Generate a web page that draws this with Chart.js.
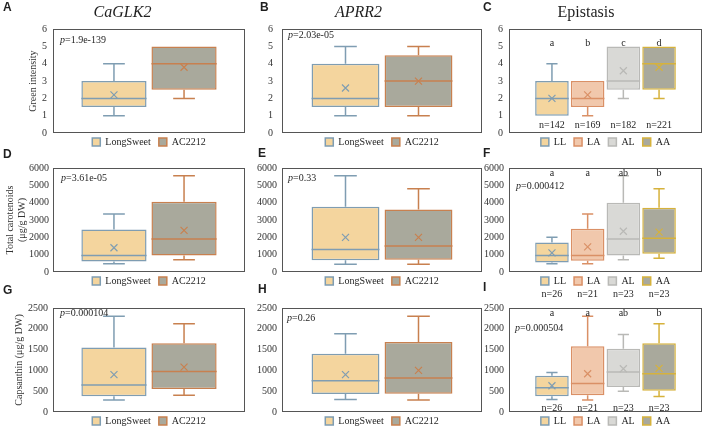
<!DOCTYPE html>
<html><head><meta charset="utf-8">
<script src="https://cdn.jsdelivr.net/npm/chart.js@4.4.1/dist/chart.umd.min.js"></script>
<style>
html,body{margin:0;padding:0;background:#fff;width:708px;height:433px;overflow:hidden;position:relative}
.panel{position:absolute}
</style></head><body>
<script>
// ---------- DATA ----------
const seriesPair = ['LongSweet', 'AC2212'];
const seriesEpi = ['LL', 'LA', 'AL', 'AA'];
// each series: [min, Q1, median, Q3, max, mean]
const greenLongSweet = [1, 1.5, 2, 3, 4, 2.2];
const greenAC2212 = [2, 2.5, 4, 5, 5, 3.8];
const aprrLongSweet = [1, 1.5, 2, 4, 5, 2.6];
const aprrAC2212 = [1, 1.5, 3, 4.5, 5, 3.0];
const epiGreenLL = [1, 1, 2, 3, 4, 2.0];
const epiGreenLA = [1, 1.5, 2, 3, 3, 2.2];
const epiGreenAL = [2, 2.5, 3, 5, 5, 3.6];
const epiGreenAA = [2, 2.5, 4, 5, 5, 3.8];
const carotGlkLongSweet = [480, 600, 950, 2450, 3350, 1400];
const carotGlkAC2212 = [700, 950, 1900, 4050, 5550, 2400];
const carotAprrLongSweet = [450, 680, 1300, 3770, 5550, 2000];
const carotAprrAC2212 = [450, 700, 1500, 3600, 4800, 2000];
const carotLL = [480, 550, 950, 1700, 2000, 1100];
const carotLA = [480, 650, 950, 2500, 3350, 1450];
const carotAL = [700, 950, 1900, 4000, 5550, 2350];
const carotAA = [800, 1050, 1950, 3700, 4800, 2300];
const capsGlkLongSweet = [290, 380, 650, 1550, 2300, 900];
const capsGlkAC2212 = [400, 550, 975, 1650, 2120, 1080];
const capsAprrLongSweet = [300, 430, 750, 1400, 1880, 900];
const capsAprrAC2212 = [290, 440, 820, 1680, 2300, 1000];
const capsLL = [300, 380, 580, 870, 950, 630];
const capsLA = [290, 400, 685, 1580, 2300, 920];
const capsAL = [500, 600, 960, 1520, 1860, 1040];
const capsAA = [370, 510, 920, 1650, 2120, 1050];
// tick labels
const greenTicks = [0, 1, 2, 3, 4, 5, 6];
const carotTicks = [0, 1000, 2000, 3000, 4000, 5000, 6000];
const capsTicks = [0, 500, 1000, 1500, 2000, 2500];
// annotations
const pGreenGlk = '1.9e-139', pGreenAprr = '2.03e-05';
const pCarotGlk = '3.61e-05', pCarotAprr = '0.33', pCarotEpi = '0.000412';
const pCapsGlk = '0.000104', pCapsAprr = '0.26', pCapsEpi = '0.000504';
const sigGreen = ['a', 'b', 'c', 'd'];
const nGreen = ['n=142', 'n=169', 'n=182', 'n=221'];
const sigCarot = ['a', 'a', 'ab', 'b'];
const sigCaps = ['a', 'a', 'ab', 'b'];
const nPigment = ['n=26', 'n=21', 'n=23', 'n=23'];

// ---------- STYLE ----------
const SERIF = '"Liberation Serif", "Times New Roman", serif';
const SANS = '"Liberation Sans", Arial, sans-serif';
const TXT = '#1f1f1f';
const pairFill = ['#F4D59E', '#A9A99C'];
const pairBorder = ['#7F9DB2', '#C8804F'];
const epiFill = ['#F4D59E', '#F1C8AC', '#D9D9D6', '#A9A99C'];
const epiBorder = ['#7F9DB2', '#DA9066', '#B9B9B6', '#D6B23C'];

const boxPlugin = {
  id: 'boxes',
  afterLayout(chart) {
    const lg = chart.legend;
    if (lg) { lg.top -= 4; lg.bottom -= 4; }
  },
  afterDatasetsDraw(chart) {
    const ctx = chart.ctx, ys = chart.scales.y;
    const py = v => ys.getPixelForValue(v);
    chart.data.datasets.forEach((ds, i) => {
      const bar = chart.getDatasetMeta(i).data[0];
      const s = ds.stats, x = bar.x, w = bar.width, cap = w / 3;
      ctx.save();
      ctx.strokeStyle = ds.borderColor; ctx.lineWidth = 1.5;
      ctx.beginPath();
      if (s[4] > s[3]) {
        ctx.moveTo(x, py(s[3])); ctx.lineTo(x, py(s[4]));
        ctx.moveTo(x - cap / 2, py(s[4])); ctx.lineTo(x + cap / 2, py(s[4]));
      }
      if (s[0] < s[1]) {
        ctx.moveTo(x, py(s[1])); ctx.lineTo(x, py(s[0]));
        ctx.moveTo(x - cap / 2, py(s[0])); ctx.lineTo(x + cap / 2, py(s[0]));
      }
      ctx.moveTo(x - w / 2, py(s[2])); ctx.lineTo(x + w / 2, py(s[2]));
      ctx.stroke();
      const my = py(s[5]), r = 3.5;
      ctx.lineWidth = 1.2; ctx.beginPath();
      ctx.moveTo(x - r, my - r); ctx.lineTo(x + r, my + r);
      ctx.moveTo(x + r, my - r); ctx.lineTo(x - r, my + r);
      ctx.stroke();
      ctx.restore();
    });
  },
  afterDraw(chart) {
    const ctx = chart.ctx, a = chart.chartArea, o = chart.options.plugins.annot;
    ctx.save();
    ctx.strokeStyle = '#555'; ctx.lineWidth = 1;
    ctx.strokeRect(Math.round(a.left) + 0.5, Math.round(a.top) + 0.5, Math.round(a.right - a.left) - 1, Math.round(a.bottom - a.top) - 1);
    ctx.fillStyle = TXT; ctx.textBaseline = 'middle';
    ctx.textAlign = 'left';
    ctx.font = 'bold 12px ' + SANS;
    ctx.fillText(o.letter, o.lx, o.ly);
    if (o.p) {
      const x = a.left + o.px, y = a.top + o.py;
      ctx.font = 'italic 10px ' + SERIF; ctx.fillText('p', x, y);
      const w = ctx.measureText('p').width;
      ctx.font = '10px ' + SERIF; ctx.fillText('=' + o.p, x + w, y);
    }
    ctx.textAlign = 'center'; ctx.font = '10px ' + SERIF;
    chart.data.datasets.forEach((ds, i) => {
      const bar = chart.getDatasetMeta(i).data[0];
      if (o.sig) ctx.fillText(o.sig[i], bar.x, a.top + o.sigDy);
      if (o.n) ctx.fillText(o.n[i], bar.x, a.bottom + o.nDy);
    });
    ctx.restore();
  }
};

function panel(o) {
  const div = document.createElement('div'); div.className = 'panel';
  div.style.left = o.left + 'px'; div.style.top = o.top + 'px';
  const cv = document.createElement('canvas');
  cv.width = o.w; cv.height = o.h; cv.style.width = o.w + 'px'; cv.style.height = o.h + 'px';
  div.appendChild(cv); document.body.appendChild(div);
  const four = o.names.length === 4;
  new Chart(cv, {
    type: 'bar',
    data: {
      labels: [''],
      datasets: o.stats.map((s, i) => ({
        label: o.names[i], data: [[s[1], s[3]]], stats: s,
        backgroundColor: o.fills[i], borderColor: o.borders[i], borderWidth: 1.5, borderSkipped: false
      }))
    },
    options: {
      responsive: false, animation: false, devicePixelRatio: 1, events: [],
      layout: { padding: { top: o.padTop || 0, right: o.padRight, bottom: o.padBottom || 0, left: 0 } },
      datasets: { bar: { categoryPercentage: four ? 0.74 : 0.73, barPercentage: four ? 0.94 : 0.93 } },
      scales: {
        x: { display: false },
        y: {
          min: o.ticks[0], max: o.ticks[o.ticks.length - 1],
          afterBuildTicks: s => { s.ticks = o.ticks.map(v => ({ value: v })); },
          afterFit: s => { s.width = o.axisW; },
          ticks: { padding: o.tickPad || 5, color: '#333', font: { family: SERIF, size: 10 }, callback: v => String(v) },
          grid: { display: false, drawTicks: false },
          border: { display: false },
          title: { display: !!o.yTitle, text: o.yTitle || '', color: '#333', font: { family: SERIF, size: 10 }, padding: { top: o.yPad || 0, bottom: 0 } }
        }
      },
      plugins: {
        title: { display: !!o.title, text: o.title || '', color: TXT, font: { family: SERIF, size: 16, style: o.italic ? 'italic' : 'normal', weight: 'normal' }, padding: { top: 3, bottom: 7 } },
        legend: { position: 'bottom', fullSize: false, labels: { boxWidth: 8, boxHeight: 8, padding: 8, color: TXT, font: { family: SERIF, size: 10 } } },
        tooltip: { enabled: false },
        annot: o.annot
      }
    },
    plugins: [boxPlugin]
  });
}

const col = [
  { left: 0, w: 274, padRight: 29, axisW: 53 },
  { left: 235, w: 264, padRight: 17, axisW: 47 },
  { left: 470, w: 260, padRight: 28, axisW: 39 }
];

// Row 1
panel(Object.assign({}, col[0], { top: 0, h: 161, title: 'CaGLK2', italic: true, yTitle: 'Green intensity', yPad: 27, ticks: greenTicks,
  names: seriesPair, stats: [greenLongSweet, greenAC2212], fills: pairFill, borders: pairBorder, tickPad: 6,
  annot: { letter: 'A', lx: 3, ly: 8, p: pGreenGlk, px: 7, py: 11 } }));
panel(Object.assign({}, col[1], { top: 0, h: 161, title: 'APRR2', italic: true, ticks: greenTicks,
  names: seriesPair, stats: [aprrLongSweet, aprrAC2212], fills: pairFill, borders: pairBorder, tickPad: 9,
  annot: { letter: 'B', lx: 25, ly: 8, p: pGreenAprr, px: 6, py: 6 } }));
panel(Object.assign({}, col[2], { top: 0, h: 161, title: 'Epistasis', italic: false, ticks: greenTicks,
  names: seriesEpi, stats: [epiGreenLL, epiGreenLA, epiGreenAL, epiGreenAA], fills: epiFill, borders: epiBorder, tickPad: 6,
  annot: { letter: 'C', lx: 13, ly: 8, sig: sigGreen, sigDy: 14, n: nGreen, nDy: -8 } }));

// Row 2
panel(Object.assign({}, col[0], { top: 140, h: 160, padTop: 28, yTitle: ['Total carotenoids', '(μg/g DW)'], yPad: 4, ticks: carotTicks,
  names: seriesPair, stats: [carotGlkLongSweet, carotGlkAC2212], fills: pairFill, borders: pairBorder, tickPad: 4,
  annot: { letter: 'D', lx: 3, ly: 15, p: pCarotGlk, px: 8, py: 10 } }));
panel(Object.assign({}, col[1], { top: 140, h: 160, padTop: 28, ticks: carotTicks,
  names: seriesPair, stats: [carotAprrLongSweet, carotAprrAC2212], fills: pairFill, borders: pairBorder, tickPad: 5,
  annot: { letter: 'E', lx: 23, ly: 14, p: pCarotAprr, px: 6, py: 10 } }));
panel(Object.assign({}, col[2], { top: 140, h: 174, padTop: 28, padBottom: 14, ticks: carotTicks,
  names: seriesEpi, stats: [carotLL, carotLA, carotAL, carotAA], fills: epiFill, borders: epiBorder, tickPad: 5,
  annot: { letter: 'F', lx: 13, ly: 14, p: pCarotEpi, px: 7, py: 18, sig: sigCarot, sigDy: 5, n: nPigment, nDy: 22 } }));

// Row 3
panel(Object.assign({}, col[0], { top: 280, h: 160, padTop: 28, yTitle: 'Capsanthin (μg/g DW)', yPad: 13, ticks: capsTicks,
  names: seriesPair, stats: [capsGlkLongSweet, capsGlkAC2212], fills: pairFill, borders: pairBorder, tickPad: 5,
  annot: { letter: 'G', lx: 3, ly: 11, p: pCapsGlk, px: 7, py: 5 } }));
panel(Object.assign({}, col[1], { top: 280, h: 160, padTop: 28, ticks: capsTicks,
  names: seriesPair, stats: [capsAprrLongSweet, capsAprrAC2212], fills: pairFill, borders: pairBorder, tickPad: 5,
  annot: { letter: 'H', lx: 23, ly: 10, p: pCapsAprr, px: 5, py: 10 } }));
panel(Object.assign({}, col[2], { top: 280, h: 160, padTop: 28, ticks: capsTicks,
  names: seriesEpi, stats: [capsLL, capsLA, capsAL, capsAA], fills: epiFill, borders: epiBorder, tickPad: 5,
  annot: { letter: 'I', lx: 13, ly: 8, p: pCapsEpi, px: 6, py: 20, sig: sigCaps, sigDy: 5, n: nPigment, nDy: -4 } }));
</script>
</body></html>
